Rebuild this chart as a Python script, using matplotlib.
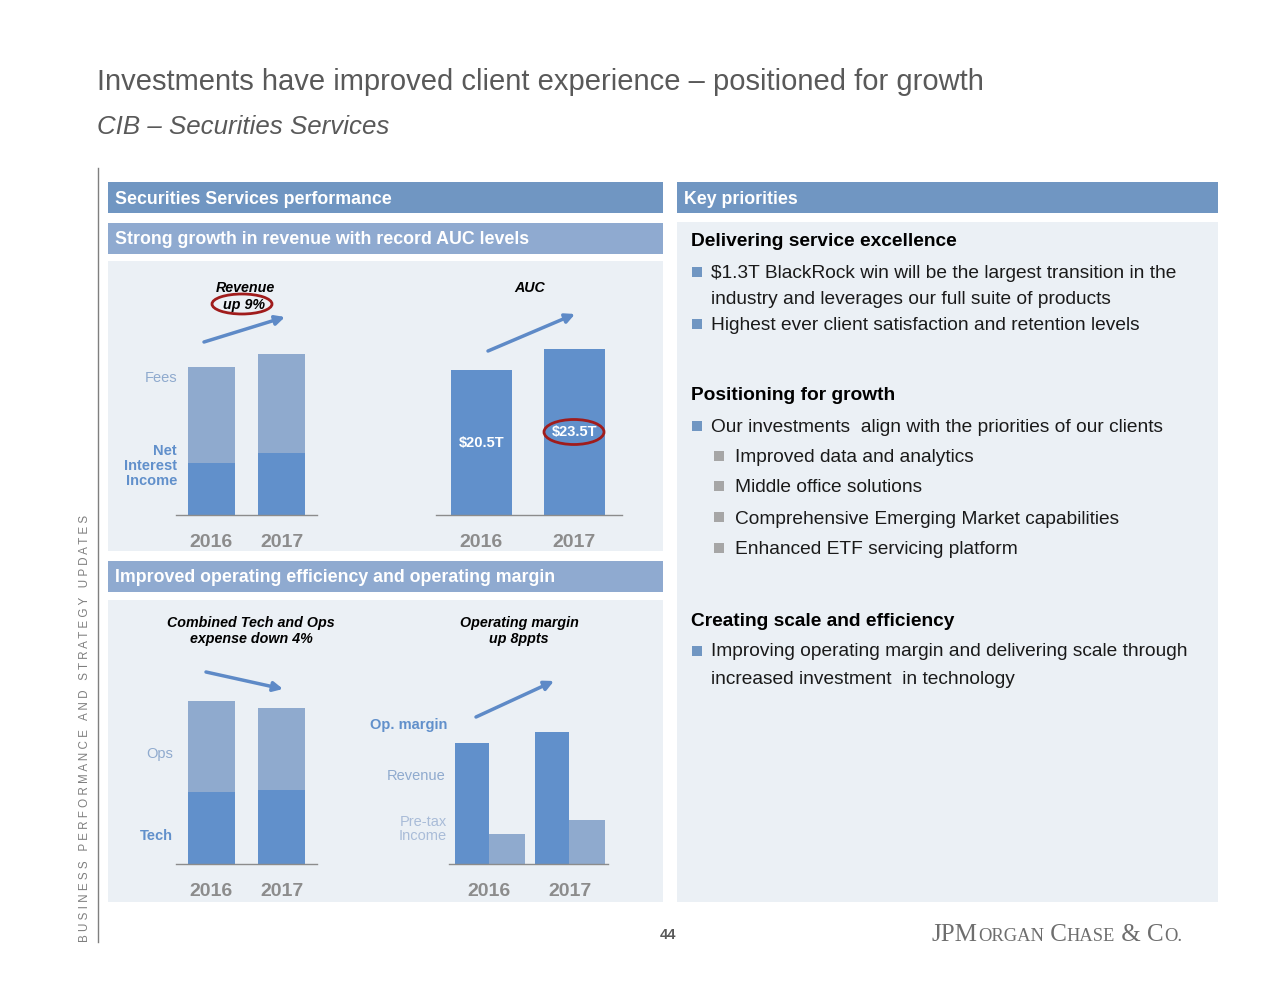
import matplotlib.pyplot as plt
from matplotlib.patches import Rectangle, Ellipse

plt.rcParams['font.family'] = ['Liberation Sans', 'DejaVu Sans']

W, H = 1280, 989

# data (approximate)
years = ["2016", "2017"]
nii = [1.27, 1.51]        # net interest income, $B
fees = [2.33, 2.41]       # fees, $B
auc = [20.5, 23.5]        # assets under custody, $T
auc_labels = ["$20.5T", "$23.5T"]
tech = [72, 74]           # tech expense (relative)
ops = [91, 82]            # ops expense (relative)
op_revenue = [121, 132]   # revenue (relative)
pretax = [30, 44]         # pre-tax income (relative)

HEAD = '#7096c2'
SUBHEAD = '#8faad0'
PANEL = '#ebf0f5'
DARK = '#6190cb'
LIGHT = '#8faace'
PALE = '#a9bcd8'
GREY = '#8c8c8c'
TXT = '#595959'
ARROW = '#5e8ac7'
RED = '#a01c1c'

fig = plt.figure(figsize=(W / 100, H / 100), dpi=100)

bg = fig.add_axes([0, 0, 1, 1])
bg.set_xlim(0, W)
bg.set_ylim(H, 0)
bg.axis('off')


def box(x0, y0, x1, y1, color):
    bg.add_patch(Rectangle((x0, y0), x1 - x0, y1 - y0, color=color, lw=0))


def chart_axes(x0, x1, ybase, ytop, xlim, ylim):
    ax = fig.add_axes([x0 / W, 1 - ybase / H, (x1 - x0) / W, (ybase - ytop) / H])
    ax.set_facecolor('none')
    ax.set_xlim(*xlim)
    ax.set_ylim(*ylim)
    for s in ['top', 'right', 'left']:
        ax.spines[s].set_visible(False)
    ax.spines['bottom'].set_color(GREY)
    ax.spines['bottom'].set_linewidth(1)
    ax.set_yticks([])
    ax.set_xticks([0, 1])
    ax.set_xticklabels(years, fontsize=14, fontweight='bold', color=GREY)
    ax.tick_params(axis='x', length=0, pad=14)
    return ax


# title
bg.text(97, 82, "Investments have improved client experience \u2013 positioned for growth",
        fontsize=21, color=TXT, va='center', ha='left')
bg.text(97, 127, "CIB \u2013 Securities Services", fontsize=18.6, color=TXT,
        style='italic', va='center', ha='left')

# left rule + vertical caption
bg.plot([98, 98], [168, 942], color='#7f7f7f', lw=1)
cap = "   ".join(" ".join(w) for w in "BUSINESS PERFORMANCE AND STRATEGY UPDATES".split())
bg.text(85, 942, cap, rotation=90, fontsize=8.4, color='#7f7f7f', ha='center', va='bottom')

# boxes
box(108, 182, 663, 213, HEAD)
box(677, 182, 1218, 213, HEAD)
box(108, 223, 663, 254, SUBHEAD)
box(108, 261, 663, 551, PANEL)
box(108, 561, 663, 592, SUBHEAD)
box(108, 600, 663, 902, PANEL)
box(677, 222, 1218, 902, PANEL)

hkw = dict(fontsize=12.8, fontweight='bold', color='white', va='center', ha='left')
bg.text(115, 200, "Securities Services performance", **hkw)
bg.text(684, 200, "Key priorities", **hkw)
bg.text(115, 240, "Strong growth in revenue with record AUC levels", **hkw)
bg.text(115, 578, "Improved operating efficiency and operating margin", **hkw)

# chart 1: revenue
ax1 = chart_axes(176, 317, 515, 300, (-0.507, 1.507), (0, 5.23))
ax1.bar([0, 1], nii, width=0.67, color=DARK)
ax1.bar([0, 1], fees, width=0.67, bottom=nii, color=LIGHT)

# chart 2: AUC
ax2 = chart_axes(436, 622, 515, 300, (-0.489, 1.511), (0, 30.4))
ax2.bar([0, 1], auc, width=0.656, color=DARK)
for i, (v, lab) in enumerate(zip(auc, auc_labels)):
    ax2.text(i, v * 0.5, lab, color='white', fontsize=10.5,
             fontweight='bold', ha='center', va='center')

# chart 3: tech and ops
ax3 = chart_axes(176, 317, 864, 650, (-0.507, 1.507), (0, 214))
ax3.bar([0, 1], tech, width=0.67, color=DARK)
ax3.bar([0, 1], ops, width=0.67, bottom=tech, color=LIGHT)

# chart 4: operating margin
ax4 = chart_axes(449, 608, 864, 650, (-0.506, 1.481), (0, 214))
ax4.bar([-0.22, 0.78], op_revenue, width=0.43, color=DARK)
ax4.bar([0.22, 1.22], pretax, width=0.45, color=LIGHT)

top = fig.add_axes([0, 0, 1, 1])
top.set_xlim(0, W)
top.set_ylim(H, 0)
top.axis('off')
top.set_facecolor('none')

# chart annotations
lbl = dict(fontsize=10.5, ha='right', va='center')
top.text(177, 378, "Fees", color=LIGHT, **lbl)
top.text(177, 466, "Net\nInterest\nIncome", color=DARK, fontweight='bold',
         linespacing=1.05, **lbl)
top.text(173, 754, "Ops", color=LIGHT, **lbl)
top.text(173, 836, "Tech", color=DARK, fontweight='bold', **lbl)
top.text(447, 725, "Op. margin", color=DARK, fontweight='bold', **lbl)
top.text(445, 776, "Revenue", color=LIGHT, **lbl)
top.text(447, 829, "Pre-tax\nIncome", color=PALE, linespacing=1.05, **lbl)

ttl = dict(fontsize=10.3, fontweight='bold', style='italic', ha='center', va='center',
           color='black')
top.text(245, 288, "Revenue", **ttl)
top.text(244, 305, "up 9%", **ttl)
top.text(530, 288, "AUC", **ttl)
top.text(251, 631, "Combined Tech and Ops\nexpense down 4%", linespacing=1.2, **ttl)
top.text(519, 631, "Operating margin\nup 8ppts", linespacing=1.2, **ttl)

top.add_patch(Ellipse((242, 304), 60, 20, fill=False, ec=RED, lw=2))
top.add_patch(Ellipse((574, 432), 60, 25, fill=False, ec=RED, lw=2))

arr = dict(arrowstyle='-|>', color=ARROW, lw=2.5, mutation_scale=14, shrinkA=0, shrinkB=0)
for (x0, y0), (x1, y1) in [((204, 342), (285, 317)), ((488, 351), (575, 314)),
                           ((206, 672), (283, 689)), ((476, 717), (554, 681))]:
    top.annotate("", xy=(x1, y1), xytext=(x0, y0), arrowprops=arr)

# right panel text
hd = dict(fontsize=13.8, fontweight='bold', color='black', ha='left', va='center')
bt = dict(fontsize=13.8, color='#1a1a1a', ha='left', va='center')


def bullet(x, y, color):
    top.add_patch(Rectangle((x - 5, y - 5), 10, 10, color=color, lw=0))


top.text(691, 242, "Delivering service excellence", **hd)
bullet(697, 272, HEAD)
top.text(711, 274, "$1.3T BlackRock win will be the largest transition in the", **bt)
top.text(711, 299, "industry and leverages our full suite of products", **bt)
bullet(697, 324, HEAD)
top.text(711, 326, "Highest ever client satisfaction and retention levels", **bt)

top.text(691, 396, "Positioning for growth", **hd)
bullet(697, 426, HEAD)
top.text(711, 428, "Our investments  align with the priorities of our clients", **bt)
for y, s in [(456, "Improved data and analytics"), (486, "Middle office solutions"),
             (517, "Comprehensive Emerging Market capabilities"),
             (548, "Enhanced ETF servicing platform")]:
    bullet(719, y, '#a6a6a6')
    top.text(735, y + 2, s, **bt)

top.text(691, 621, "Creating scale and efficiency", **hd)
bullet(697, 651, HEAD)
top.text(711, 652, "Improving operating margin and delivering scale through", **bt)
top.text(711, 679, "increased investment  in technology", **bt)

# footer
top.text(668, 935, "44", fontsize=10.5, fontweight='bold', color='#595959',
         ha='center', va='center')
fig.canvas.draw()
r = fig.canvas.get_renderer()
x = 932
for s, fs in [("JPM", 18), ("ORGAN", 13.3), (" C", 18), ("HASE", 13.3), (" & C", 18), ("O.", 13.3)]:
    t = top.text(x, 941, s, fontsize=fs, family='Liberation Serif', color='#6e6e6e',
                 ha='left', va='baseline')
    bb = t.get_window_extent(renderer=r)
    x += bb.width

fig.savefig("out.png", dpi=100)
